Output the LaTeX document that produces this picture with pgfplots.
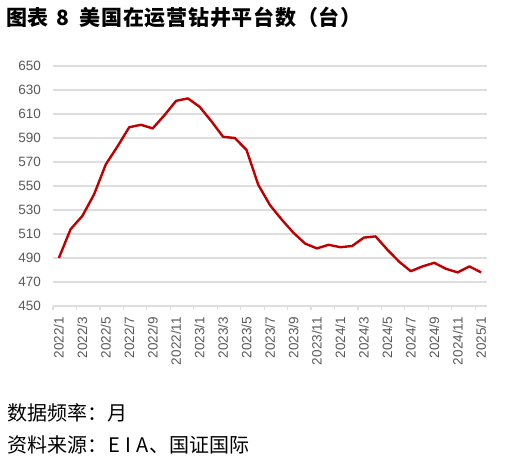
\documentclass[border=0pt]{standalone}
\usepackage{fontspec}
\setmainfont{Liberation Sans}
\newfontfamily\cjk{Noto Sans CJK SC}
\newfontfamily\cjktitle[LetterSpace=3.5]{Noto Sans CJK SC}
\usepackage{pgfplots}
\pgfplotsset{compat=1.18}
\definecolor{linered}{HTML}{C00000}
\definecolor{gridgray}{HTML}{DEDEDE}
\definecolor{labgray}{HTML}{595959}
\begin{document}
\begin{tikzpicture}[x=1pt,y=1pt]
\useasboundingbox (0,0) rectangle (514,464);
\begin{axis}[
  at={(53pt,158pt)}, anchor=south west,
  scale only axis, width=434pt, height=240pt,
  xmin=-0.5, xmax=36.5, ymin=450, ymax=650,
  ytick={450,470,...,650},
  xtick={0,2,...,36},
  xticklabels={2022/1,2022/3,2022/5,2022/7,2022/9,2022/11,2023/1,2023/3,2023/5,2023/7,2023/9,2023/11,2024/1,2024/3,2024/5,2024/7,2024/9,2024/11,2025/1},
  axis x line*=bottom, axis y line*=left,
  y axis line style={draw=none},
  x axis line style={draw=gridgray, line width=1.2pt},
  ytick style={draw=none},
  xtick style={draw=none},
  major tick length=0pt,
  extra x ticks={-0.5,1.5,...,35.5},
  extra x tick labels={},
  extra x tick style={xtick style={draw=gridgray, line width=1.2pt}, major tick length=4pt, tick align=outside},
  ymajorgrids, grid style={gridgray, line width=1.2pt},
  /pgf/number format/assume math mode=true,
  ticklabel style={font=\fontsize{13.5}{16}\selectfont, text=labgray, inner sep=0pt},
  yticklabel style={anchor=east},
  yticklabel shift=12pt,
  xticklabel style={rotate=90, anchor=east},
  xticklabel shift=11pt,
  clip=false,
]
\addplot[linered, line width=2.4pt, line join=round] coordinates {
(0,490)(1,514)(2,525)(3,543)(4,568)(5,583)(6,599)(7,601)(8,598)(9,609)
(10,621)(11,623)(12,616)(13,604)(14,591)(15,590)(16,580)(17,551)(18,534)(19,522)
(20,511)(21,502)(22,498)(23,501)(24,499)(25,500)(26,507)(27,508)(28,497)(29,487)
(30,479)(31,483)(32,486)(33,481)(34,478)(35,483)(36,478)};
\end{axis}
\node[anchor=west, inner sep=0pt] at (6,447) {\cjktitle\fontsize{21}{25}\selectfont\bfseries 图表\hspace{8pt}8\hspace{10pt}美国在运营钻井平台数（台）};
\node[anchor=west, inner sep=0pt] at (7,51) {\cjk\fontsize{20}{24}\selectfont 数据频率：月};
\node[anchor=west, inner sep=0pt] at (7,19) {\cjk\fontsize{20}{24}\selectfont 资料来源：\makebox[14pt]{E}\makebox[14pt]{I}\makebox[14pt]{A}、国证国际};
\end{tikzpicture}
\end{document}
